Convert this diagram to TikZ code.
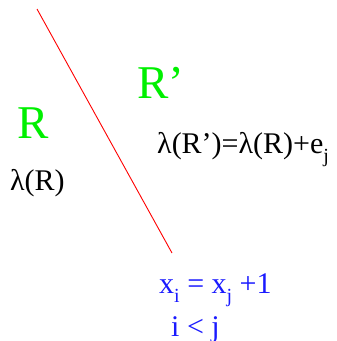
\documentclass[tikz,border=0pt]{standalone}
\usepackage{fontspec}
\setmainfont{Liberation Serif}
\definecolor{Red}{HTML}{FF0000}
\definecolor{LGreen}{HTML}{00F000}
\definecolor{DBlue}{HTML}{1A1AFF}
\newcommand{\lowidx}[1]{\raisebox{-0.32em}{\fontsize{20}{22}\selectfont #1}}
\begin{document}
\begin{tikzpicture}[x=1pt, y=-1pt,
    region/.style={LGreen, anchor=base west, inner sep=0pt, font=\fontsize{47}{50}\selectfont},
    label/.style={black, anchor=base west, inner sep=0pt, font=\fontsize{30}{33}\selectfont},
    cond/.style={DBlue, anchor=base west, inner sep=0pt, font=\fontsize{30}{33}\selectfont}]

    \useasboundingbox (0,0) rectangle (337,341);

    % the wall between the two regions
    \coordinate (top) at (37,9);
    \coordinate (bottom) at (172,253);
    \draw[Red, line width=0.9pt] (top) -- (bottom);

    \node[region] (R) at (17,138) {R};
    \node[region] (Rp) at (137,98) {R’};

    \node[label] (lamR) at (10,190) {λ(R)};
    \node[label] (lamRp) at (157,153) {λ(R’)=λ(R)+e\lowidx{j}};

    \node[cond] (eq) at (159,293) {x\lowidx{i} = x\lowidx{j} +1};
    \node[cond] (ineq) at (171,336) {i < j};
\end{tikzpicture}
\end{document}
